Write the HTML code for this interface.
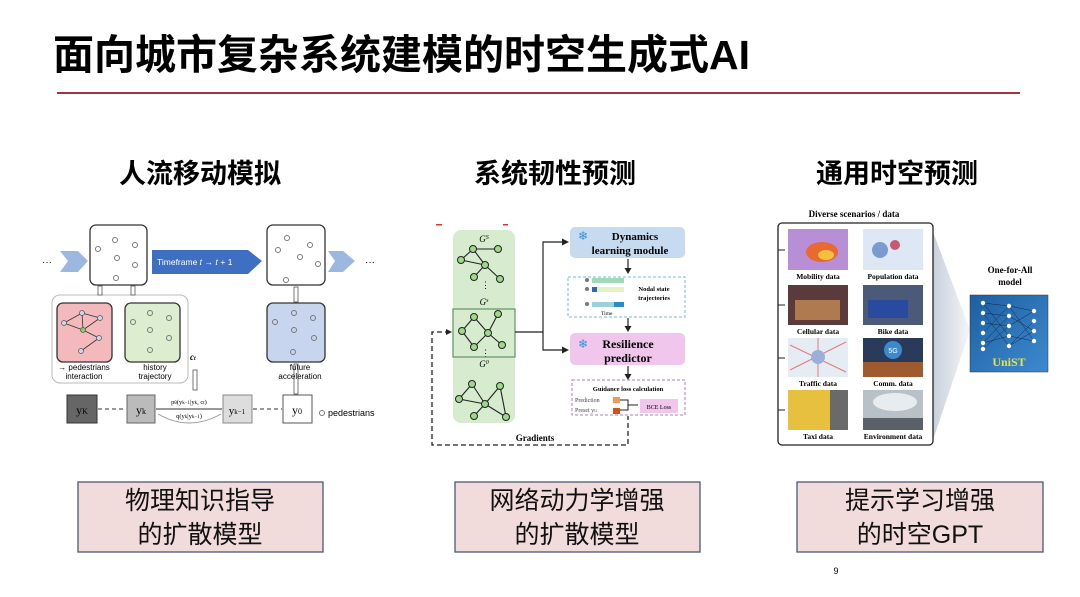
<!DOCTYPE html>
<html><head><meta charset="utf-8"><style>
html,body{margin:0;padding:0;background:#fff;}
svg{display:block;}
text{font-family:"Liberation Sans","Noto Sans CJK SC",sans-serif;}
.s{font-family:"Liberation Serif","Noto Serif CJK SC",serif;}
</style></head><body>
<svg width="1080" height="597" viewBox="0 0 1080 597" xmlns="http://www.w3.org/2000/svg">
<defs>
<linearGradient id="mg" x1="0" y1="0" x2="1" y2="1"><stop offset="0" stop-color="#1d5fa0"/><stop offset="1" stop-color="#3d8ad0"/></linearGradient>
<linearGradient id="tz" x1="0" y1="0" x2="1" y2="0"><stop offset="0" stop-color="#c8d0dc"/><stop offset="1" stop-color="#f4f6f9"/></linearGradient>
</defs>
<!-- title -->
<text x="53" y="69" font-size="41" font-weight="bold" fill="#000">面向城市复杂系统建模的时空生成式AI</text>
<rect x="57" y="92" width="963" height="2" fill="#a3333f"/>
<!-- headings -->
<text x="200" y="183" font-size="27" text-anchor="middle" font-weight="bold">人流移动模拟</text>
<text x="555" y="183" font-size="27" text-anchor="middle" font-weight="bold">系统韧性预测</text>
<text x="897" y="183" font-size="27" text-anchor="middle" font-weight="bold">通用时空预测</text>

<!-- LEFT diagram -->
<text x="42" y="265" font-size="10">···</text>
<polygon points="60,251 78,251 88,261 78,272 60,272 68,261" fill="#9db8e0"/>
<rect x="90" y="225" width="57" height="60" rx="6" fill="#fff" stroke="#333" stroke-width="1.3"/>
<g fill="none" stroke="#777"><circle cx="115" cy="240" r="2.5"/><circle cx="98" cy="249" r="2.5"/><circle cx="135" cy="245" r="2.5"/><circle cx="117" cy="258" r="2.5"/><circle cx="135" cy="265" r="2.5"/><circle cx="116" cy="278" r="2.5"/></g>
<polygon points="152,250 248,250 262,261 248,274 152,274" fill="#3f6fc2"/>
<text x="157" y="265" font-size="8.5" fill="#fff">Timeframe 𝑡 → 𝑡 + 1</text>
<rect x="267" y="225" width="58" height="60" rx="6" fill="#fff" stroke="#333" stroke-width="1.3"/>
<g fill="none" stroke="#777"><circle cx="287" cy="238" r="2.5"/><circle cx="278" cy="250" r="2.5"/><circle cx="310" cy="245" r="2.5"/><circle cx="300" cy="257" r="2.5"/><circle cx="318" cy="264" r="2.5"/><circle cx="286" cy="280" r="2.5"/></g>
<polygon points="328,251 343,251 355,261 343,272 328,272 335,261" fill="#9db8e0"/>
<text x="365" y="265" font-size="10">···</text>
<rect x="52" y="295" width="136" height="88" rx="8" fill="#fff" stroke="#bbb"/>
<rect x="57" y="303" width="55" height="59" rx="6" fill="#f4b9bd" stroke="#333" stroke-width="1.3"/>
<g stroke="#333" stroke-width="0.8"><line x1="64" y1="323" x2="82" y2="313"/><line x1="82" y1="313" x2="100" y2="318"/><line x1="82" y1="313" x2="83" y2="330"/><line x1="64" y1="323" x2="83" y2="330"/><line x1="83" y1="330" x2="99" y2="338"/><line x1="99" y1="338" x2="81" y2="351"/><line x1="100" y1="318" x2="83" y2="330"/></g>
<g fill="#c8d8f0" stroke="#555" stroke-width="0.7"><circle cx="64" cy="323" r="2.5"/><circle cx="82" cy="313" r="2.5"/><circle cx="100" cy="318" r="2.5"/><circle cx="99" cy="338" r="2.5"/><circle cx="81" cy="351" r="2.5"/><circle cx="83" cy="330" r="2.5" fill="#8c6"/></g>
<rect x="125" y="303" width="55" height="59" rx="6" fill="#dcedd0" stroke="#333" stroke-width="1.3"/>
<g fill="none" stroke="#777"><circle cx="150" cy="313" r="2.5"/><circle cx="169" cy="318" r="2.5"/><circle cx="133" cy="322" r="2.5"/><circle cx="150" cy="330" r="2.5"/><circle cx="169" cy="338" r="2.5"/><circle cx="150" cy="350" r="2.5"/></g>
<text x="84" y="370" font-size="8" text-anchor="middle">→ pedestrians</text>
<text x="84" y="379" font-size="8" text-anchor="middle">interaction</text>
<text x="155" y="370" font-size="8" text-anchor="middle">history</text>
<text x="155" y="379" font-size="8" text-anchor="middle">trajectory</text>
<g fill="#fff" stroke="#555" stroke-width="0.8"><rect x="98" y="286" width="4" height="9"/><rect x="131" y="286" width="4" height="9"/><rect x="294" y="287" width="4" height="15"/><rect x="294" y="364" width="4" height="30"/><rect x="193" y="370" width="4" height="20"/></g>
<text x="190" y="360" font-size="9" font-weight="bold" font-style="italic" class="s">c<tspan font-size="6">t</tspan></text>
<rect x="267" y="303" width="58" height="59" rx="6" fill="#c7d5ef" stroke="#333" stroke-width="1.3"/>
<g fill="none" stroke="#777"><circle cx="294" cy="313" r="2.5"/><circle cx="313" cy="318" r="2.5"/><circle cx="275" cy="322" r="2.5"/><circle cx="294" cy="330" r="2.5"/><circle cx="314" cy="338" r="2.5"/><circle cx="293" cy="352" r="2.5"/></g>
<text x="300" y="370" font-size="8" text-anchor="middle">future</text>
<text x="300" y="379" font-size="8" text-anchor="middle">acceleration</text>
<rect x="67" y="395" width="30" height="28" fill="#666" stroke="#333"/>
<text x="82" y="414" font-size="12" text-anchor="middle" class="s">y<tspan font-size="8">K</tspan></text>
<rect x="127" y="395" width="28" height="28" fill="#bbb" stroke="#666"/>
<text x="141" y="414" font-size="12" text-anchor="middle" class="s">y<tspan font-size="8">k</tspan></text>
<rect x="223" y="395" width="29" height="28" fill="#ddd" stroke="#888"/>
<text x="237" y="414" font-size="11" text-anchor="middle" class="s">y<tspan font-size="7">k−1</tspan></text>
<rect x="283" y="395" width="29" height="28" fill="#fff" stroke="#555"/>
<text x="297" y="414" font-size="12" text-anchor="middle" class="s">y<tspan font-size="8">0</tspan></text>
<g stroke="#333" stroke-dasharray="4,3"><line x1="98" y1="409" x2="126" y2="409"/><line x1="253" y1="409" x2="282" y2="409"/></g>
<line x1="156" y1="409" x2="222" y2="409" stroke="#333"/>
<text x="189" y="404" font-size="6.5" text-anchor="middle" class="s">p<tspan font-size="5">θ</tspan>(y<tspan font-size="5">k−1</tspan>|y<tspan font-size="5">k</tspan>, c<tspan font-size="5">t</tspan>)</text>
<text x="189" y="418" font-size="6.5" text-anchor="middle" class="s">q(y<tspan font-size="5">k</tspan>|y<tspan font-size="5">k−1</tspan>)</text>
<path d="M158,414 Q189,432 221,414" fill="none" stroke="#999"/>
<circle cx="322" cy="413" r="2.5" fill="none" stroke="#777"/>
<text x="328" y="416" font-size="9">pedestrians</text>

<!-- MIDDLE diagram -->
<rect x="436" y="224" width="6" height="1.5" fill="#d33"/><rect x="503" y="224" width="5" height="1.5" fill="#d33"/>
<rect x="453" y="230" width="62" height="193" rx="8" fill="#d7ebcf"/>
<text x="484" y="242" font-size="9" font-style="italic" text-anchor="middle" class="s">G<tspan font-size="6" dy="-3">S</tspan></text>
<text x="484" y="305" font-size="9" font-style="italic" text-anchor="middle" class="s">G<tspan font-size="6" dy="-3">s</tspan></text>
<text x="484" y="367" font-size="9" font-style="italic" text-anchor="middle" class="s">G<tspan font-size="6" dy="-3">0</tspan></text>
<text x="481" y="288" font-size="9">⋮</text><text x="481" y="356" font-size="9">⋮</text>
<rect x="453" y="309" width="62" height="48" fill="none" stroke="#6a9a6a" stroke-width="1.3"/>
<g stroke="#222" stroke-width="1.1"><line x1="473" y1="249" x2="498" y2="249"/><line x1="473" y1="249" x2="461" y2="260"/><line x1="461" y1="260" x2="485" y2="265"/><line x1="473" y1="249" x2="485" y2="265"/><line x1="485" y1="265" x2="474" y2="277"/><line x1="485" y1="265" x2="500" y2="279"/>
<line x1="462" y1="331" x2="474" y2="317"/><line x1="462" y1="331" x2="474" y2="347"/><line x1="474" y1="317" x2="488" y2="333"/><line x1="474" y1="347" x2="488" y2="333"/><line x1="488" y1="333" x2="498" y2="314"/><line x1="488" y1="333" x2="502" y2="345"/>
<line x1="459" y1="399" x2="472" y2="384"/><line x1="459" y1="399" x2="485" y2="404"/><line x1="472" y1="384" x2="485" y2="404"/><line x1="485" y1="404" x2="474" y2="416"/><line x1="485" y1="404" x2="500" y2="386"/><line x1="500" y1="386" x2="506" y2="417"/><line x1="485" y1="404" x2="506" y2="417"/></g>
<g fill="#9ed98a" stroke="#222" stroke-width="1"><circle cx="473" cy="249" r="3.5"/><circle cx="498" cy="249" r="3.5"/><circle cx="461" cy="260" r="3.5"/><circle cx="485" cy="265" r="3.5"/><circle cx="474" cy="277" r="3.5"/><circle cx="500" cy="279" r="3.5"/>
<circle cx="462" cy="331" r="3.5"/><circle cx="474" cy="317" r="3.5"/><circle cx="474" cy="347" r="3.5"/><circle cx="488" cy="333" r="3.5"/><circle cx="498" cy="314" r="3.5"/><circle cx="502" cy="345" r="3.5"/>
<circle cx="459" cy="399" r="3.5"/><circle cx="472" cy="384" r="3.5"/><circle cx="485" cy="404" r="3.5"/><circle cx="474" cy="416" r="3.5"/><circle cx="500" cy="386" r="3.5"/><circle cx="506" cy="417" r="3.5"/></g>
<g stroke="#222" stroke-width="1.2" fill="none"><path d="M515,332 H543 V242 H566"/><path d="M543,332 V350 H566"/><path d="M628,259 V270"/><path d="M628,318 V330"/><path d="M628,366 V377"/></g>
<g fill="#222"><polygon points="569,242 562,238.5 562,245.5"/><polygon points="569,350 562,346.5 562,353.5"/><polygon points="628,274 624.5,268 631.5,268"/><polygon points="628,332 624.5,326 631.5,326"/><polygon points="628,380 624.5,374 631.5,374"/></g>
<rect x="570" y="227" width="115" height="31" rx="5" fill="#c6daf0"/>
<text x="578" y="240" font-size="12" fill="#3a8fd8">❄</text>
<text x="635" y="240" font-size="11" font-weight="bold" text-anchor="middle" class="s">Dynamics</text>
<text x="630" y="254" font-size="11" font-weight="bold" text-anchor="middle" class="s">learning module</text>
<rect x="568" y="277" width="117" height="40" fill="none" stroke="#7ab8d8" stroke-dasharray="3,2"/>
<g><circle cx="587" cy="280" r="2" fill="#777"/><rect x="592" y="278" width="32" height="5" fill="#9ed9b8"/><circle cx="587" cy="289" r="2" fill="#777"/><rect x="592" y="287" width="32" height="5" fill="#e6f2c0"/><rect x="592" y="287" width="5" height="5" fill="#2a6ab0"/><circle cx="587" cy="304" r="2" fill="#777"/><rect x="592" y="302" width="32" height="5" fill="#9ed0d8"/><rect x="614" y="302" width="10" height="5" fill="#2a8ac8"/></g>
<text x="654" y="291" font-size="6.5" font-weight="bold" text-anchor="middle" class="s">Nodal state</text>
<text x="654" y="300" font-size="6.5" font-weight="bold" text-anchor="middle" class="s">trajectories</text>
<text x="601" y="315" font-size="5.5" class="s">Time</text>
<rect x="570" y="333" width="115" height="32" rx="5" fill="#f0c6ec"/>
<text x="578" y="348" font-size="12" fill="#3a8fd8">❄</text>
<text x="628" y="348" font-size="12" font-weight="bold" text-anchor="middle" class="s">Resilience</text>
<text x="628" y="362" font-size="12" font-weight="bold" text-anchor="middle" class="s">predictor</text>
<rect x="572" y="380" width="113" height="35" fill="none" stroke="#b878b8" stroke-dasharray="3,2"/>
<text x="628" y="391" font-size="6.5" font-weight="bold" text-anchor="middle" class="s">Guidance loss calculation</text>
<text x="575" y="402" font-size="6" class="s" fill="#444">Prediction</text>
<text x="575" y="412" font-size="6" class="s" fill="#444">Preset y<tspan font-size="4">G</tspan></text>
<rect x="613" y="397" width="7" height="6" fill="#ef9a5a"/><rect x="613" y="408" width="7" height="6" fill="#d2501a"/>
<path d="M620,400 H628 V410 H620 M628,405 H638" fill="none" stroke="#222"/>
<rect x="640" y="399" width="38" height="14" fill="#f0c6ec"/>
<text x="659" y="409" font-size="6" text-anchor="middle" class="s">BCE Loss</text>
<path d="M450,332 H432 V445 H628 V416" fill="none" stroke="#222" stroke-width="1.3" stroke-dasharray="5,3"/>
<polygon points="452,332 446,329 446,335" fill="#222"/>
<text x="535" y="441" font-size="9" font-weight="bold" text-anchor="middle" class="s">Gradients</text>

<!-- RIGHT diagram -->
<text x="854" y="217" font-size="9" font-weight="bold" text-anchor="middle" class="s">Diverse scenarios / data</text>
<polygon points="933,232 970,330 933,440" fill="url(#tz)"/>
<rect x="778" y="223" width="155" height="222" rx="4" fill="#fff" stroke="#222" stroke-width="1.3"/>
<g stroke="#222"><line x1="778" y1="250" x2="785" y2="250"/><line x1="778" y1="305" x2="785" y2="305"/><line x1="778" y1="358" x2="785" y2="358"/><line x1="778" y1="410" x2="785" y2="410"/></g>
<rect x="788" y="229" width="60" height="41" fill="#b88fd6"/><ellipse cx="822" cy="252" rx="16" ry="10" fill="#e86a30"/><ellipse cx="826" cy="255" rx="8" ry="5" fill="#f4c040"/>
<rect x="863" y="229" width="60" height="41" fill="#dde8f4"/><circle cx="880" cy="250" r="8" fill="#7a9ad0"/><circle cx="895" cy="245" r="5" fill="#c85a70"/>
<rect x="788" y="285" width="60" height="40" fill="#5a3a3a"/><rect x="795" y="300" width="45" height="20" fill="#b07a50"/>
<rect x="863" y="285" width="60" height="40" fill="#4a5a78"/><rect x="868" y="300" width="40" height="18" fill="#2a4aa0"/>
<rect x="788" y="338" width="60" height="39" fill="#e6ecf4"/><path d="M790,345 L846,372 M790,370 L846,342 M818,338 V377" stroke="#e07a7a"/><circle cx="818" cy="357" r="7" fill="#9ab0d8"/>
<rect x="863" y="338" width="60" height="39" fill="#2a3a5a"/><circle cx="893" cy="350" r="9" fill="#3a8ad0"/><text x="893" y="353" font-size="7" fill="#fff" text-anchor="middle">5G</text><rect x="863" y="362" width="60" height="15" fill="#a05a30"/>
<rect x="788" y="390" width="60" height="40" fill="#e8c040"/><rect x="830" y="390" width="18" height="40" fill="#6a6a6a"/>
<rect x="863" y="390" width="60" height="40" fill="#b8c0c8"/><ellipse cx="895" cy="402" rx="22" ry="9" fill="#e8ecef"/><rect x="863" y="418" width="60" height="12" fill="#5a6068"/>
<g font-size="7.5" font-weight="bold" text-anchor="middle" class="s">
<text x="818" y="279" class="s">Mobility data</text><text x="893" y="279" class="s">Population data</text>
<text x="818" y="334" class="s">Cellular data</text><text x="893" y="334" class="s">Bike data</text>
<text x="818" y="386" class="s">Traffic data</text><text x="893" y="386" class="s">Comm. data</text>
<text x="818" y="439" class="s">Taxi data</text><text x="893" y="439" class="s">Environment data</text></g>
<text x="1010" y="273" font-size="9" font-weight="bold" text-anchor="middle" class="s">One-for-All</text>
<text x="1010" y="285" font-size="9" font-weight="bold" text-anchor="middle" class="s">model</text>
<rect x="970" y="295" width="78" height="77" fill="url(#mg)" stroke="#333" stroke-width="0.5"/>
<g stroke="#0a1a30" stroke-width="0.4">
<path d="M983,303 L1009,306 M983,303 L1009,336 M983,313 L1009,316 M983,323 L1009,326 M983,333 L1009,306 M983,343 L1009,336 M983,349 L1009,326 M983,313 L1009,346 M983,343 L1009,316 M1009,306 L1034,311 M1009,316 L1034,331 M1009,326 L1034,311 M1009,336 L1034,341 M1009,346 L1034,321 M1009,306 L1034,341 M1009,346 L1034,331"/></g>
<g fill="#fff"><circle cx="983" cy="303" r="2.2"/><circle cx="983" cy="313" r="2.2"/><circle cx="983" cy="323" r="2.2"/><circle cx="983" cy="333" r="2.2"/><circle cx="983" cy="343" r="2.2"/><circle cx="983" cy="349" r="2.2"/>
<circle cx="1009" cy="306" r="2.2"/><circle cx="1009" cy="316" r="2.2"/><circle cx="1009" cy="326" r="2.2"/><circle cx="1009" cy="336" r="2.2"/><circle cx="1009" cy="346" r="2.2"/>
<circle cx="1034" cy="311" r="2.2"/><circle cx="1034" cy="321" r="2.2"/><circle cx="1034" cy="331" r="2.2"/><circle cx="1034" cy="341" r="2.2"/></g>
<text x="1009" y="366" font-size="12" font-weight="bold" fill="#f0e040" text-anchor="middle" class="s">UniST</text>

<!-- bottom boxes -->
<g fill="#f2dcdb" stroke="#4a5878" stroke-width="1.3">
<rect x="78" y="482" width="245" height="70"/><rect x="455" y="482" width="245" height="70"/><rect x="797" y="482" width="246" height="70"/></g>
<g font-size="25" text-anchor="middle" fill="#111">
<text x="200" y="509">物理知识指导</text><text x="200" y="543">的扩散模型</text>
<text x="577" y="509">网络动力学增强</text><text x="577" y="543">的扩散模型</text>
<text x="920" y="509">提示学习增强</text><text x="920" y="543">的时空GPT</text></g>
<text x="836" y="574" font-size="9" text-anchor="middle">9</text>
</svg>
</body></html>
